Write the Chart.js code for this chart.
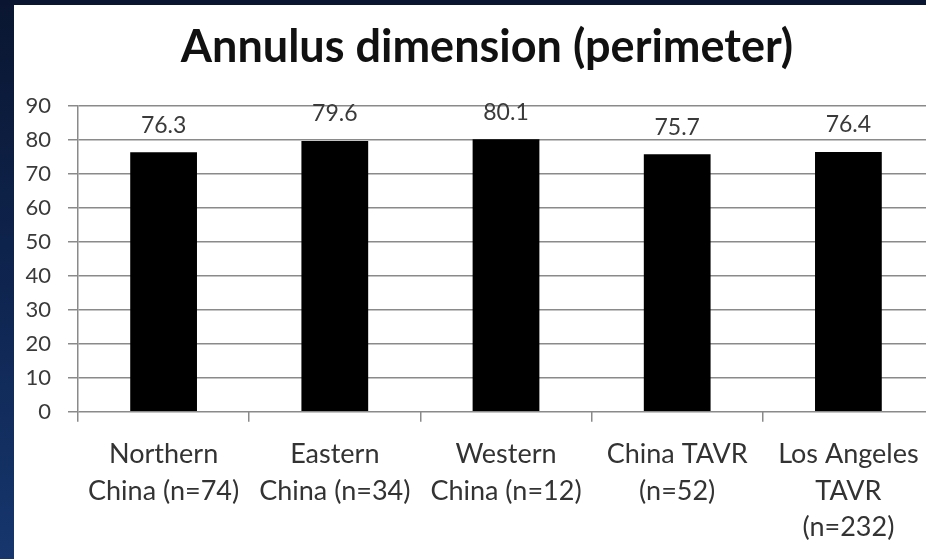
<!DOCTYPE html>
<html>
<head>
<meta charset="utf-8">
<script src="https://cdn.jsdelivr.net/npm/chart.js@4"></script>
<style>
  html, body { margin: 0; padding: 0; background: #fff; overflow: hidden; }
  #wrap { position: relative; width: 926px; height: 559px; overflow: hidden; }
  #box { position: absolute; left: 0; top: 0; width: 934px; height: 559px; }
  #box canvas { filter: blur(0.6px); }
  .band-left { position: absolute; left: 0; top: 0; width: 14px; height: 559px;
    background: linear-gradient(#0a1631, #0f2652 55%, #16366d); z-index: 2; }
  .band-top { position: absolute; left: 0; top: 0; width: 926px; height: 5px; background: #0a1631; z-index: 2; }
</style>
</head>
<body>
<div id="wrap">
  <div class="band-left"></div>
  <div class="band-top"></div>
  <div id="box"><canvas id="chart"></canvas></div>
</div>
<script>
// Данные
const chartTitle = 'Annulus dimension (perimeter)';
const groups = [
  ['Northern', 'China (n=74)'],
  ['Eastern', 'China (n=34)'],
  ['Western', 'China (n=12)'],
  ['China TAVR', '(n=52)'],
  ['Los Angeles', 'TAVR', '(n=232)']
];
const perimeter = [76.3, 79.6, 80.1, 75.7, 76.4];
const yTicks = [0, 10, 20, 30, 40, 50, 60, 70, 80, 90];

const FONT = 'Lato, "Open Sans", sans-serif';
const GRID = '#8a8a8a';

// Заголовок по центру над графиком
const titlePlugin = {
  id: 'slideTitle',
  afterDraw(chart) {
    const ctx = chart.ctx;
    ctx.save();
    ctx.font = `bold 45px ${FONT}`;
    ctx.fillStyle = '#111';
    ctx.textAlign = 'center';
    ctx.textBaseline = 'middle';
    ctx.fillText(chartTitle, 487, 47);
    ctx.restore();
  }
};

// Подписи значений над столбцами
const valueLabels = {
  id: 'valueLabels',
  afterDatasetsDraw(chart) {
    const ctx = chart.ctx;
    const meta = chart.getDatasetMeta(0);
    ctx.save();
    ctx.font = `23px ${FONT}`;
    ctx.fillStyle = '#3a3a3a';
    ctx.textAlign = 'center';
    ctx.textBaseline = 'middle';
    meta.data.forEach((bar, i) => {
      ctx.fillText(perimeter[i].toFixed(1), bar.x, bar.y - 27);
    });
    ctx.restore();
  }
};

new Chart(document.getElementById('chart'), {
  type: 'bar',
  data: {
    labels: groups,
    datasets: [{
      data: perimeter,
      backgroundColor: '#000',
      borderWidth: 0,
      categoryPercentage: 1,
      barPercentage: 0.39
    }]
  },
  options: {
    responsive: true,
    maintainAspectRatio: false,
    animation: false,
    layout: { padding: { top: 105.7, right: 0, bottom: 0, left: 0 } },
    plugins: {
      legend: { display: false },
      tooltip: { enabled: false },
      title: { display: false }
    },
    scales: {
      x: {
        afterFit(scale) { scale.height = 559 - 411.7; },
        grid: {
          display: true,
          drawOnChartArea: false,
          offset: true,
          color: GRID,
          lineWidth: 1.5,
          tickLength: 10
        },
        border: { display: false },
        ticks: {
          font: { family: FONT, size: 27, lineHeight: 1.34 },
          color: '#333',
          padding: 15,
          maxRotation: 0,
          autoSkip: false
        }
      },
      y: {
        min: 0,
        max: 90,
        afterFit(scale) { scale.width = 78; },
        afterBuildTicks(scale) { scale.ticks = yTicks.map(v => ({ value: v })); },
        grid: {
          color: GRID,
          lineWidth: 1.5,
          tickLength: 10
        },
        border: { display: true, color: GRID, width: 1.5 },
        ticks: {
          font: { family: FONT, size: 22 },
          color: '#3a3a3a',
          padding: 17
        }
      }
    }
  },
  plugins: [titlePlugin, valueLabels]
});
</script>
</body>
</html>
